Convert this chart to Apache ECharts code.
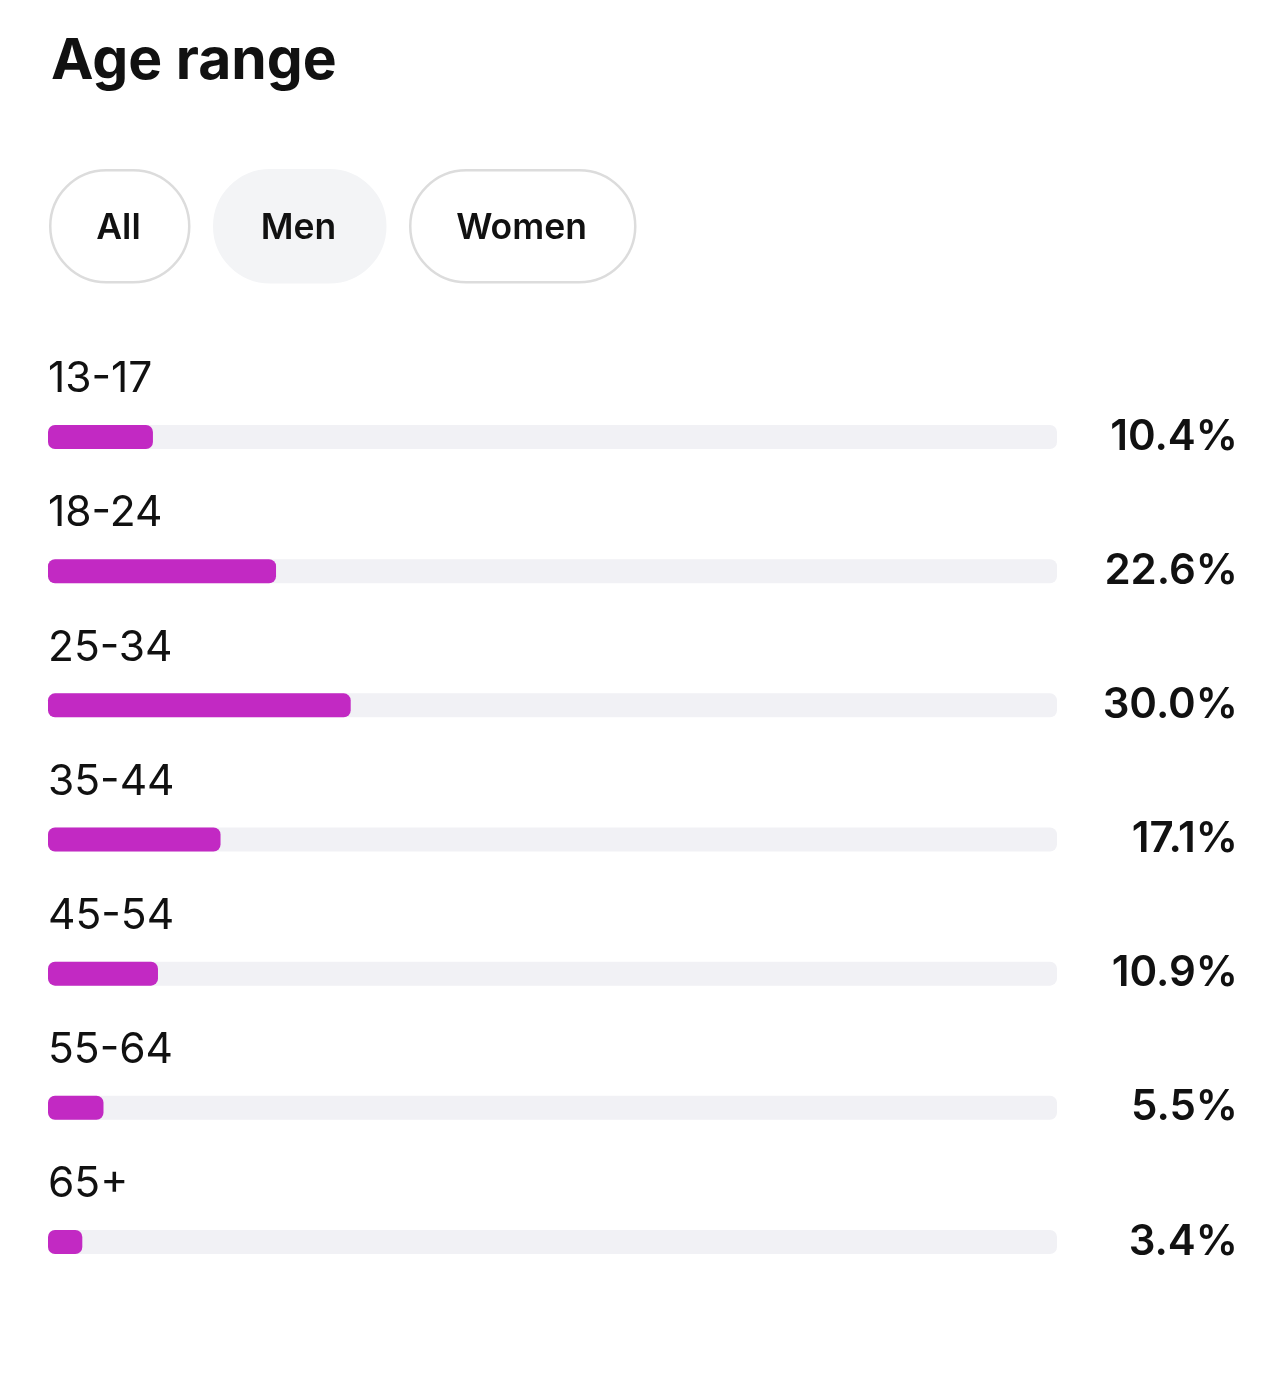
<!DOCTYPE html>
<html>
<head>
<meta charset="utf-8">
<script src="https://cdn.jsdelivr.net/npm/echarts@6/dist/echarts.min.js"></script>
<style>
  html, body { margin: 0; padding: 0; background: #fff; }
  #chart { width: 1284px; height: 1378px; }
</style>
</head>
<body>
<div id="chart"></div>
<script>
// age ranges, top to bottom
var ageGroups = ["13-17", "18-24", "25-34", "35-44", "45-54", "55-64", "65+"];
// share of men in each range (%)
var menShare = [10.4, 22.6, 30.0, 17.1, 10.9, 5.5, 3.4];
var filters = ["All", "Men", "Women"];
var activeFilter = "Men";

var chart = echarts.init(document.getElementById("chart"));

// filter pills
var pillBoxes = [
  { x: 49, w: 139 },
  { x: 213, w: 171 },
  { x: 409, w: 225 },
];
var pills = [];
filters.forEach(function (name, i) {
  var b = pillBoxes[i];
  var on = name === activeFilter;
  pills.push({
    type: "rect",
    left: b.x,
    top: 169,
    shape: { width: b.w, height: 112, r: 56 },
    style: {
      fill: on ? "#f3f4f6" : "#fff",
      stroke: on ? "#f3f4f6" : "#dcdcdc",
      lineWidth: 2.5,
    },
  });
  pills.push({
    type: "text",
    x: b.x + b.w / 2,
    y: 228,
    style: {
      text: name,
      fill: "#111",
      font: "600 35.5px Inter",
      align: "center",
      verticalAlign: "middle",
    },
  });
});

chart.setOption({
  animation: false,
  textStyle: { fontFamily: "Inter" },
  title: {
    text: "Age range",
    left: 46,
    top: 28,
    textStyle: { fontSize: 57, fontWeight: 700, color: "#111" },
  },
  graphic: pills,
  grid: { left: 48, right: 227, top: 370, bottom: 69 },
  xAxis: { type: "value", min: 0, max: 100, show: false },
  yAxis: [
    {
      type: "category",
      data: ageGroups,
      inverse: true,
      axisLine: { show: false },
      axisTick: { show: false },
      axisLabel: {
        inside: true,
        margin: 0,
        fontSize: 42.5,
        color: "#111",
        verticalAlign: "bottom",
        padding: [0, 0, 36, 0],
      },
    },
    {
      type: "category",
      position: "right",
      data: menShare.map(function (v) { return v.toFixed(1) + "%"; }),
      inverse: true,
      axisLine: { show: false },
      axisTick: { show: false },
      axisLabel: {
        margin: 181,
        align: "right",
        fontSize: 42,
        fontWeight: 600,
        color: "#111",
        padding: [6, 0, 0, 0],
      },
    },
  ],
  series: [
    {
      type: "bar",
      data: menShare,
      barWidth: 24,
      itemStyle: { color: "#c229c3", borderRadius: 7 },
      showBackground: true,
      backgroundStyle: { color: "#f1f1f5", borderRadius: 7 },
    },
  ],
});
</script>
</body>
</html>
